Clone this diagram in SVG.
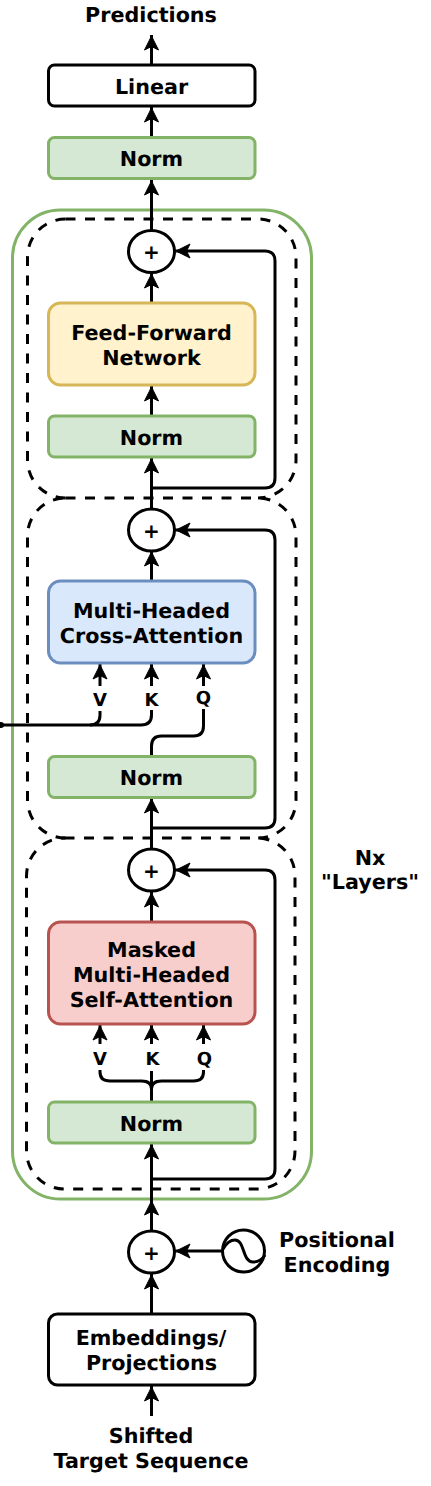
<svg xmlns="http://www.w3.org/2000/svg" width="431" height="1486" viewBox="0 0 431 1486">
<style>
text{font-family:"DejaVu Sans",sans-serif;font-weight:700;font-size:20.700px;fill:#000;text-anchor:middle;text-rendering:geometricPrecision}
text.q{font-size:18px}
text.p{font-size:20px}
.b{stroke-width:3;stroke:#000;fill:#fff}
.n{stroke-width:3;stroke:#82b366;fill:#d5e8d4}
.c{fill:none;stroke:#000;stroke-width:3}
.d{fill:none;stroke:#000;stroke-width:3;stroke-dasharray:10 9.500}
</style>
<defs>
<marker id="a" markerUnits="userSpaceOnUse" markerWidth="20" markerHeight="20" refX="16" refY="9" orient="auto"><path d="M1 2L15 9L1 16L4.500 9Z" fill="#000" stroke="#000" stroke-width="1"/></marker>
</defs>
<rect id="layers" x="12.500" y="210" width="299" height="989" rx="48" fill="none" stroke="#82b366" stroke-width="3"/>
<path id="decoder-top" class="d" d="M65.500 219H258A38 38 0 0 1 296 257V460A38 38 0 0 1 258 498M65.500 498A38 38 0 0 1 27.500 460V257A38 38 0 0 1 65.500 219"/>
<path id="decoder-mid" class="d" d="M65.500 498H258A38 38 0 0 1 296 536V800A38 38 0 0 1 258 838M65.500 838A38 38 0 0 1 27.500 800V536A38 38 0 0 1 65.500 498"/>
<rect id="decoder-bot" class="d" x="26.500" y="838" width="268.500" height="351" rx="38"/>
<g id="connectors">
<path class="c" marker-end="url(#a)" d="M151.500 65V35"/>
<path class="c" marker-end="url(#a)" d="M151.500 137V107"/>
<path class="c" marker-end="url(#a)" d="M151.500 230V180"/>
<path class="c" marker-end="url(#a)" d="M151.500 303V273"/>
<path class="c" marker-end="url(#a)" d="M151.500 416V386"/>
<path class="c" marker-end="url(#a)" d="M151.500 509V458"/>
<path class="c" marker-end="url(#a)" d="M151.500 488H265Q275 488 275 478V261Q275 251 265 251H175"/>
<path class="c" marker-end="url(#a)" d="M151.500 581V551"/>
<path class="c" marker-end="url(#a)" d="M151.500 849V798"/>
<path class="c" marker-end="url(#a)" d="M151.500 828H265Q275 828 275 818V540Q275 530 265 530H175"/>
<path class="c" d="M0 725H90Q100 725 100 715V711"/>
<path class="c" d="M90 725H141Q151.500 725 151.500 715V710"/>
<path class="c" marker-end="url(#a)" d="M100 686V664"/>
<path class="c" marker-end="url(#a)" d="M151.500 686V664"/>
<path class="c" marker-end="url(#a)" d="M203.500 686V664"/>
<path class="c" d="M151.500 757V746Q151.500 736 161.500 736H193.500Q203.500 736 203.500 726V709"/>
<path class="c" marker-end="url(#a)" d="M151.500 922V892"/>
<path class="c" marker-end="url(#a)" d="M151.500 1200V1144"/>
<path class="c" marker-end="url(#a)" d="M151.500 1231V1200"/>
<path class="c" marker-end="url(#a)" d="M151.500 1179H265Q275 1179 275 1169V880Q275 870 265 870H175"/>
<path class="c" marker-end="url(#a)" d="M100 1044V1025"/>
<path class="c" marker-end="url(#a)" d="M151.500 1044V1025"/>
<path class="c" marker-end="url(#a)" d="M203.500 1044V1025"/>
<path class="c" d="M151.500 1102V1071"/>
<path class="c" d="M100 1070V1072Q100 1081 110 1081H141.500Q151.500 1081 151.500 1089Q151.500 1081 161.500 1081H193.500Q203.500 1081 203.500 1072V1070"/>
<path class="c" marker-end="url(#a)" d="M151.500 1314V1274"/>
<path class="c" marker-end="url(#a)" d="M222 1251H175"/>
<path class="c" marker-end="url(#a)" d="M151.500 1416V1386"/>
<circle cx="1" cy="725" r="3" fill="#000"/>
</g>
<text x="151" y="21.500">Predictions</text>
<g id="linear"><rect class="b" x="48.500" y="65" width="206.500" height="41" rx="6"/><text x="151.500" y="94">Linear</text></g>
<g id="norm-out"><rect class="n" x="48.500" y="137.500" width="206.500" height="41" rx="6"/><text x="151.500" y="166">Norm</text></g>
<g id="add-1"><ellipse class="b" cx="151.500" cy="251.500" rx="23" ry="21"/><text class="p" x="151.500" y="259">+</text></g>
<g id="ffn"><rect x="48.500" y="303" width="206.500" height="82" rx="12" fill="#fff2cc" stroke="#d6b656" stroke-width="3"/><text x="151.500" y="340">Feed-Forward</text><text x="151.500" y="365">Network</text></g>
<g id="norm-1"><rect class="n" x="48.500" y="416" width="206.500" height="41" rx="6"/><text x="151.500" y="445">Norm</text></g>
<g id="add-2"><ellipse class="b" cx="151.500" cy="530" rx="23" ry="21"/><text class="p" x="151.500" y="537.500">+</text></g>
<g id="cross"><rect x="48.500" y="581" width="206.500" height="82" rx="12" fill="#dae8fc" stroke="#6c8ebf" stroke-width="3"/><text x="151.500" y="618">Multi-Headed</text><text x="151.500" y="643">Cross-Attention</text></g>
<text class="q" x="100" y="705.500">V</text><text class="q" x="151.500" y="705.500">K</text><text class="q" x="203.500" y="704">Q</text>
<g id="norm-2"><rect class="n" x="48.500" y="756.500" width="206.500" height="41" rx="6"/><text x="151.500" y="785">Norm</text></g>
<g id="add-3"><ellipse class="b" cx="151.500" cy="870" rx="23" ry="21"/><text class="p" x="151.500" y="877.500">+</text></g>
<g id="self"><rect x="48.500" y="922" width="206.500" height="102" rx="12" fill="#f8cecc" stroke="#b85450" stroke-width="3"/><text x="151.500" y="956.500">Masked</text><text x="151.500" y="981.500">Multi-Headed</text><text x="151.500" y="1006.500">Self-Attention</text></g>
<text class="q" x="100" y="1064.500">V</text><text class="q" x="152.500" y="1065">K</text><text class="q" x="204.500" y="1065">Q</text>
<g id="norm-3"><rect class="n" x="48.500" y="1102" width="206.500" height="41" rx="6"/><text x="151.500" y="1131">Norm</text></g>
<text x="370" y="865">Nx</text><text x="370" y="889">"Layers"</text>
<g id="add-4"><ellipse class="b" cx="151.500" cy="1252" rx="23" ry="21"/><text class="p" x="151.500" y="1259.500">+</text></g>
<g id="pos"><circle class="b" cx="243.500" cy="1251" r="21"/><path class="c" d="M223 1249C227 1242 231 1240 235 1240C245 1240 242 1262 253 1262C258 1262 262 1260 265 1255"/><text x="337" y="1247">Positional</text><text x="337" y="1272">Encoding</text></g>
<g id="embed"><rect class="b" x="48.500" y="1314" width="206.500" height="71" rx="9"/><text x="151" y="1345">Embeddings/</text><text x="151.500" y="1370">Projections</text></g>
<text x="151" y="1443">Shifted</text><text x="151" y="1468">Target Sequence</text>
</svg>
